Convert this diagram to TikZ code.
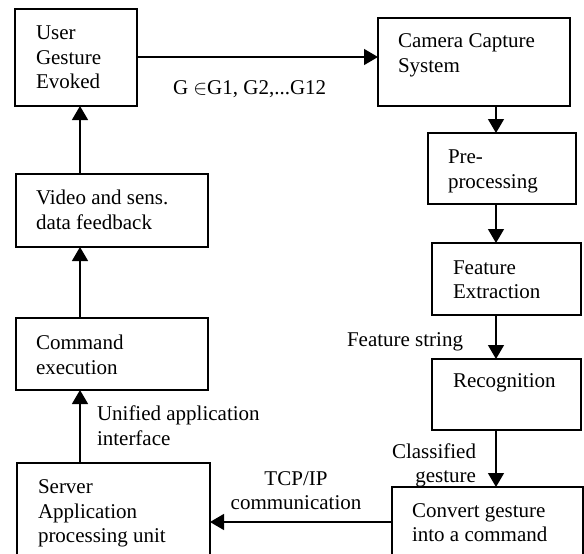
\documentclass[tikz,border=0pt]{standalone}
\usepackage{fontspec}
\setmainfont{Liberation Serif}
\usetikzlibrary{arrows.meta,calc}
\tikzset{
  box/.style={draw=black, line width=1.6pt, inner sep=0pt, outer sep=0pt, fill=none},
  txt/.style={inner sep=0pt, outer sep=0pt, align=left, anchor=west, font=\fontsize{21}{24.5}\selectfont},
  arr/.style={line width=1.4pt, -{Triangle[length=14pt,width=16pt]}},
}
\begin{document}
\begin{tikzpicture}[x=1pt,y=-1pt]
\useasboundingbox (0,0) rectangle (584,554);
\clip (0,0) rectangle (584,554);
% boxes
\node[box, minimum width=122pt, minimum height=97pt] (user) at (76,57.5) {};
\node[box, minimum width=192pt, minimum height=88pt] (cam) at (474,62) {};
\node[box, minimum width=148pt, minimum height=71pt] (pre) at (502,168.5) {};
\node[box, minimum width=149pt, minimum height=72pt] (feat) at (506.5,279) {};
\node[box, minimum width=149pt, minimum height=71pt] (rec) at (506.5,394.5) {};
\node[box, minimum width=191pt, minimum height=83pt] (conv) at (487.5,528.5) {};
\node[box, minimum width=193pt, minimum height=107pt] (server) at (113.5,516.5) {};
\node[box, minimum width=192pt, minimum height=72pt] (cmd) at (112,354) {};
\node[box, minimum width=192pt, minimum height=73pt] (video) at (112,210.5) {};
% box texts
\node[txt] (tuser) at (36,57.7) {User\\Gesture\\Evoked};
\node[txt] (tcam) at (398,55.5) {Camera Capture\\System};
\node[txt] (tpre) at (448,171.5) {Pre-\\processing};
\node[txt] (tfeat) at (453,279.5) {Feature\\Extraction};
\node[txt] (trec) at (453,383) {Recognition};
\node[txt] (tconv) at (412,522.5) {Convert gesture\\into a command};
\node[txt] (tserver) at (38,513.5) {Server\\Application\\processing unit};
\node[txt] (tcmd) at (36,355) {Command\\execution};
\node[txt] (tvideo) at (36,210) {Video and sens.\\data feedback};
% labels
\node[txt] (lg) at (173,89) {G $\in$G1, G2,...G12};
\node[txt] (lfs) at (347,342) {Feature string};
\node[txt, anchor=east, align=right] (lcl) at (476,465.5) {Classified\\gesture};
\node[txt, anchor=center, align=center] (ltcp) at (296,490.5) {TCP/IP\\communication};
\node[txt] (luni) at (97,425.5) {Unified application\\interface};
% helper coordinates
\coordinate (xl) at (80,0);
\coordinate (xr) at (496,0);
\coordinate (ytop) at (0,57);
\coordinate (ytcp) at (0,522);
% connectors
\draw[arr] (user.east |- ytop) -- (cam.west |- ytop);
\draw[arr] (cam.south -| xr) -- (pre.north -| xr);
\draw[arr] (pre.south -| xr) -- (feat.north -| xr);
\draw[arr] (feat.south -| xr) -- (rec.north -| xr);
\draw[arr] (rec.south -| xr) -- (conv.north -| xr);
\draw[arr] (conv.west |- ytcp) -- (server.east |- ytcp);
\draw[arr] (server.north -| xl) -- (cmd.south -| xl);
\draw[arr] (cmd.north -| xl) -- (video.south -| xl);
\draw[arr] (video.north -| xl) -- (user.south -| xl);
\end{tikzpicture}
\end{document}
